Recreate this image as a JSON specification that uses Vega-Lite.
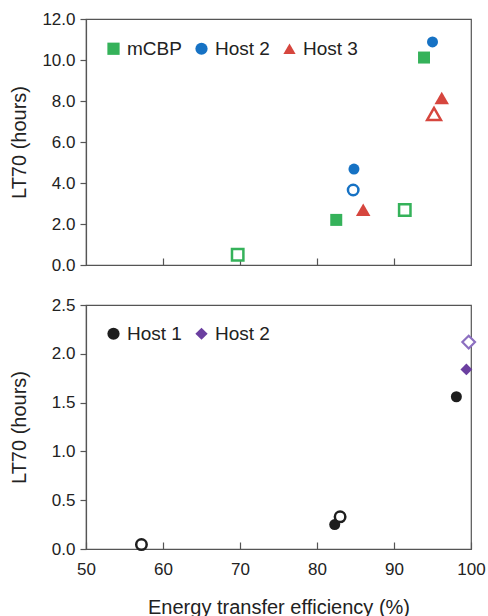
{
  "$schema": "https://vega.github.io/schema/vega-lite/v6.json",
  "padding": {"left": 8, "top": 9, "right": 2, "bottom": 0},
  "background": "white",
  "datasets": {
    "top": [
      {"series": "mCBP", "fill": "open", "efficiency": 69.7, "lt70": 0.5},
      {"series": "mCBP", "fill": "filled", "efficiency": 82.5, "lt70": 2.2},
      {"series": "mCBP", "fill": "open", "efficiency": 91.4, "lt70": 2.68},
      {"series": "mCBP", "fill": "filled", "efficiency": 93.9, "lt70": 10.12},
      {"series": "Host 2", "fill": "filled", "efficiency": 84.8, "lt70": 4.68},
      {"series": "Host 2", "fill": "open", "efficiency": 84.7, "lt70": 3.66},
      {"series": "Host 2", "fill": "filled", "efficiency": 95.0, "lt70": 10.88},
      {"series": "Host 3", "fill": "filled", "efficiency": 86.0, "lt70": 2.7},
      {"series": "Host 3", "fill": "filled", "efficiency": 96.2, "lt70": 8.15},
      {"series": "Host 3", "fill": "open", "efficiency": 95.2, "lt70": 7.37}
    ],
    "bottom": [
      {"series": "Host 1", "fill": "open", "efficiency": 57.2, "lt70": 0.045},
      {"series": "Host 1", "fill": "filled", "efficiency": 82.3, "lt70": 0.25},
      {"series": "Host 1", "fill": "open", "efficiency": 83.0, "lt70": 0.33},
      {"series": "Host 1", "fill": "filled", "efficiency": 98.1, "lt70": 1.56},
      {"series": "Host 2", "fill": "filled", "efficiency": 99.4, "lt70": 1.84},
      {"series": "Host 2", "fill": "open", "efficiency": 99.7, "lt70": 2.12}
    ]
  },
  "config": {
    "font": "Liberation Sans",
    "view": {"stroke": "#555", "strokeWidth": 1.2},
    "axis": {
      "grid": false,
      "labelFlush": false,
      "domainColor": "#555",
      "domainWidth": 1.2,
      "tickColor": "#555",
      "tickWidth": 1.2,
      "labelFont": "Liberation Sans",
      "labelFontSize": 17,
      "labelColor": "#222",
      "titleFont": "Liberation Sans",
      "titleFontSize": 20,
      "titleFontWeight": "normal",
      "titleColor": "#222"
    },
    "legend": {
      "labelFont": "Liberation Sans",
      "labelFontSize": 19,
      "labelColor": "#222",
      "symbolOpacity": 1,
      "symbolStrokeWidth": 0,
      "symbolSize": 150
    }
  },
  "spacing": 21,
  "resolve": {"scale": {"color": "independent", "shape": "independent", "stroke": "independent", "x": "independent", "y": "independent"}},
  "vconcat": [
    {
      "width": 385,
      "height": 246,
      "data": {"name": "top"},
      "encoding": {
        "x": {"field": "efficiency", "type": "quantitative", "scale": {"domain": [50, 100], "nice": false}, "axis": {"labels": false, "title": null, "tickSize": -7, "values": [60, 70, 80, 90]}},
        "y": {"field": "lt70", "type": "quantitative", "scale": {"domain": [0, 12], "nice": false}, "axis": {"values": [0, 2, 4, 6, 8, 10, 12], "format": ".1f", "title": "LT70 (hours)", "tickSize": 6, "labelPadding": 5, "titlePadding": 12}}
      },
      "layer": [
        {
          "transform": [{"filter": "datum.fill === 'filled' && datum.series === 'mCBP'"}],
          "mark": {"type": "point", "filled": true, "opacity": 1, "size": 144},
          "encoding": {
            "color": {"field": "series", "type": "nominal", "scale": {"domain": ["mCBP", "Host 2", "Host 3"], "range": ["#35b25a", "#1672c4", "#d6463e"]}, "legend": {"title": null, "orient": "none", "legendX": 18, "legendY": 20, "direction": "horizontal", "columnPadding": 10, "labelOffset": 4}},
            "shape": {"field": "series", "type": "nominal", "scale": {"domain": ["mCBP", "Host 2", "Host 3"], "range": ["square", "circle", "triangle-up"]}, "legend": {"title": null, "orient": "none", "legendX": 18, "legendY": 20, "direction": "horizontal", "columnPadding": 10, "labelOffset": 4}}
          }
        },
        {
          "transform": [{"filter": "datum.fill === 'filled' && datum.series === 'Host 2'"}],
          "mark": {"type": "point", "filled": true, "opacity": 1, "size": 121},
          "encoding": {
            "color": {"field": "series", "type": "nominal"},
            "shape": {"field": "series", "type": "nominal"}
          }
        },
        {
          "transform": [{"filter": "datum.fill === 'filled' && datum.series === 'Host 3'"}],
          "mark": {"type": "point", "filled": true, "opacity": 1, "size": 210},
          "encoding": {
            "color": {"field": "series", "type": "nominal"},
            "shape": {"field": "series", "type": "nominal"}
          }
        },
        {
          "transform": [{"filter": "datum.fill === 'open' && datum.series === 'mCBP'"}],
          "mark": {"type": "point", "filled": false, "fill": "white", "fillOpacity": 1, "opacity": 1, "strokeWidth": 2.5, "size": 130},
          "encoding": {
            "stroke": {"field": "series", "type": "nominal", "scale": {"domain": ["mCBP", "Host 2", "Host 3"], "range": ["#35b25a", "#1672c4", "#d6463e"]}, "legend": null},
            "shape": {"field": "series", "type": "nominal", "legend": null}
          }
        },
        {
          "transform": [{"filter": "datum.fill === 'open' && datum.series === 'Host 2'"}],
          "mark": {"type": "point", "filled": false, "fill": "white", "fillOpacity": 1, "opacity": 1, "strokeWidth": 2.5, "size": 110},
          "encoding": {
            "stroke": {"field": "series", "type": "nominal", "legend": null},
            "shape": {"field": "series", "type": "nominal", "legend": null}
          }
        },
        {
          "transform": [{"filter": "datum.fill === 'open' && datum.series === 'Host 3'"}],
          "mark": {"type": "point", "filled": false, "fill": "white", "fillOpacity": 1, "opacity": 1, "strokeWidth": 2.5, "size": 190},
          "encoding": {
            "stroke": {"field": "series", "type": "nominal", "legend": null},
            "shape": {"field": "series", "type": "nominal", "legend": null}
          }
        }
      ]
    },
    {
      "width": 385,
      "height": 244,
      "data": {"name": "bottom"},
      "encoding": {
        "x": {"field": "efficiency", "type": "quantitative", "scale": {"domain": [50, 100], "nice": false}, "axis": {"values": [50, 60, 70, 80, 90, 100], "format": "d", "title": "Energy transfer efficiency (%)", "tickSize": -7, "labelPadding": 19, "titlePadding": 20}},
        "y": {"field": "lt70", "type": "quantitative", "scale": {"domain": [0, 2.5], "nice": false}, "axis": {"values": [0, 0.5, 1, 1.5, 2, 2.5], "format": ".1f", "title": "LT70 (hours)", "tickSize": 6, "labelPadding": 5, "titlePadding": 12, "minExtent": 45}}
      },
      "layer": [
        {
          "transform": [{"filter": "datum.fill === 'filled' && datum.series === 'Host 1'"}],
          "mark": {"type": "point", "filled": true, "opacity": 1, "size": 121},
          "encoding": {
            "color": {"field": "series", "type": "nominal", "scale": {"domain": ["Host 1", "Host 2"], "range": ["#1e1e1e", "#6b3fa0"]}, "legend": {"title": null, "orient": "none", "legendX": 18, "legendY": 19, "direction": "horizontal", "columnPadding": 10, "labelOffset": 4}},
            "shape": {"field": "series", "type": "nominal", "scale": {"domain": ["Host 1", "Host 2"], "range": ["circle", "diamond"]}, "legend": {"title": null, "orient": "none", "legendX": 18, "legendY": 19, "direction": "horizontal", "columnPadding": 10, "labelOffset": 4}}
          }
        },
        {
          "transform": [{"filter": "datum.fill === 'filled' && datum.series === 'Host 2'"}],
          "mark": {"type": "point", "filled": true, "opacity": 1, "size": 140},
          "encoding": {
            "color": {"field": "series", "type": "nominal"},
            "shape": {"field": "series", "type": "nominal"}
          }
        },
        {
          "transform": [{"filter": "datum.fill === 'open' && datum.series === 'Host 1'"}],
          "mark": {"type": "point", "filled": false, "fill": "white", "fillOpacity": 1, "opacity": 1, "strokeWidth": 2.5, "size": 110},
          "encoding": {
            "stroke": {"field": "series", "type": "nominal", "scale": {"domain": ["Host 1", "Host 2"], "range": ["#1e1e1e", "#8c6fc0"]}, "legend": null},
            "shape": {"field": "series", "type": "nominal", "legend": null}
          }
        },
        {
          "transform": [{"filter": "datum.fill === 'open' && datum.series === 'Host 2'"}],
          "mark": {"type": "point", "filled": false, "fill": "white", "fillOpacity": 1, "opacity": 1, "strokeWidth": 2.2, "size": 160},
          "encoding": {
            "stroke": {"field": "series", "type": "nominal", "legend": null},
            "shape": {"field": "series", "type": "nominal", "legend": null}
          }
        }
      ]
    }
  ]
}
